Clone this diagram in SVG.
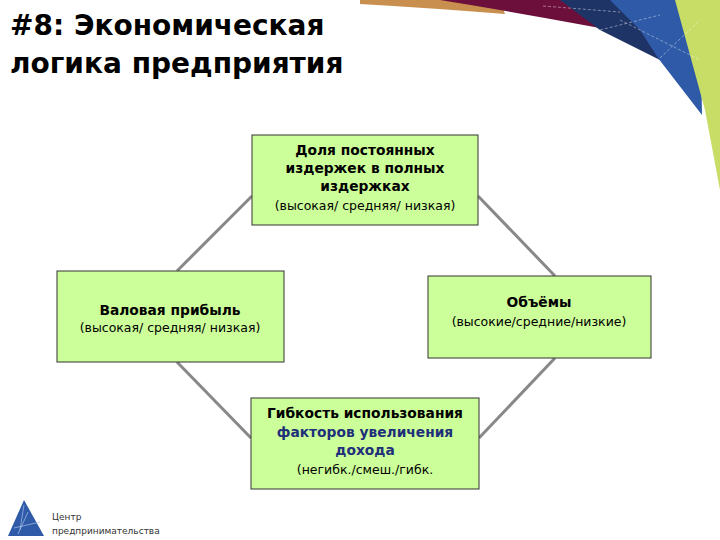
<svg xmlns="http://www.w3.org/2000/svg" width="720" height="540" viewBox="0 0 720 540">
<style>
.box{fill:#ccff99;stroke:#333;stroke-width:1}
.b{font-family:"DejaVu Sans",sans-serif;font-weight:bold;font-size:13.8px;fill:#000;text-anchor:middle}
.n{font-family:"DejaVu Sans",sans-serif;font-size:12.5px;fill:#000;text-anchor:middle}
.t{font-family:"DejaVu Sans",sans-serif;font-weight:bold;font-size:28px;fill:#000}
.c{stroke:#888;stroke-width:3;fill:none}
</style>
<rect width="720" height="540" fill="#fff"/>
<g id="decor">
<path d="M360 0 L500 0 L505 14 Q430 8 360 4Z" fill="#c98f4f"/>
<path d="M440 0 L600 0 L600 28 L545 18 Q490 8 440 0Z" fill="#6d0f3b"/>
<path d="M560 0 L660 0 L660 60 L600 30Z" fill="#1f3466"/>
<path d="M610 0 L700 0 L702 115 L658 58 L640 30Z" fill="#2e5aa8"/>
<path d="M675 0 L720 0 L720 190 L705 110Z" fill="#c8dd66"/>
<path d="M543 6 L620 12 M600 30 L660 15 M620 20 L700 60 M660 58 L700 20" stroke="#fff" stroke-width="0.6" stroke-dasharray="3 2" opacity="0.7"/>
</g>
<g id="title">
<text class="t" x="10" y="35">#8: Экономическая</text>
<text class="t" x="10" y="73">логика предприятия</text>
</g>
<g id="connectors">
<line class="c" x1="252" y1="196" x2="177" y2="271"/>
<line class="c" x1="478" y1="196" x2="555" y2="276"/>
<line class="c" x1="177" y1="362" x2="251" y2="438"/>
<line class="c" x1="555" y1="358" x2="479" y2="438"/>
</g>
<g id="n1">
<rect class="box" x="252" y="135" width="226" height="90"/>
<text class="b" x="365" y="155">Доля постоянных</text>
<text class="b" x="365" y="173">издержек в полных</text>
<text class="b" x="365" y="191">издержках</text>
<text class="n" x="365" y="210">(высокая/ средняя/ низкая)</text>
</g>
<g id="n2">
<rect class="box" x="57" y="271" width="227" height="91"/>
<text class="b" x="170" y="315">Валовая прибыль</text>
<text class="n" x="170" y="332">(высокая/ средняя/ низкая)</text>
</g>
<g id="n3">
<rect class="box" x="428" y="276" width="223" height="82"/>
<text class="b" x="539" y="307">Объёмы</text>
<text class="n" x="539" y="326">(высокие/средние/низкие)</text>
</g>
<g id="n4">
<rect class="box" x="251" y="398" width="228" height="91"/>
<text class="b" x="365" y="418">Гибкость использования</text>
<text class="b" x="365" y="437" style="fill:#1f2f7a">факторов увеличения</text>
<text class="b" x="365" y="455" style="fill:#1f2f7a">дохода</text>
<text class="n" x="365" y="474">(негибк./смеш./гибк.</text>
</g>
<g id="logo">
<path d="M24 500 L8 536 L44 536Z" fill="#2e5aa8"/>
<path d="M24 505 L20 530 M14 528 L40 522 M28 512 L18 534" stroke="#aac4ee" stroke-width="0.7"/>
<text x="52" y="520" font-family="DejaVu Sans,sans-serif" font-size="9" fill="#333">Центр</text>
<text x="52" y="534" font-family="DejaVu Sans,sans-serif" font-size="9" fill="#333">предпринимательства</text>
</g>
</svg>
